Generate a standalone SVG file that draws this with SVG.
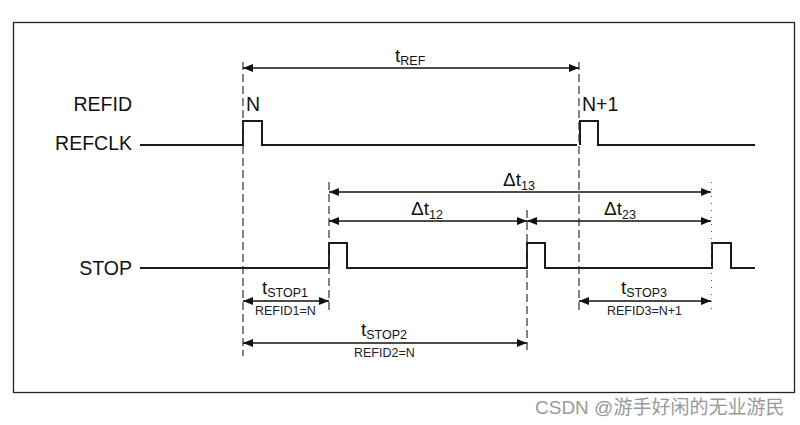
<svg xmlns="http://www.w3.org/2000/svg" width="800" height="425" viewBox="0 0 800 425">
<defs>
<marker id="ah" viewBox="0 0 10 10" refX="10" refY="5" markerWidth="10" markerHeight="10" markerUnits="userSpaceOnUse" orient="auto-start-reverse">
<path d="M0,1 L10,5 L0,9 Z" fill="#111"/>
</marker>
</defs>
<style>
.sig{fill:none;stroke:#1a1a1a;stroke-width:2}
.dash{fill:none;stroke:#333;stroke-width:1.2;stroke-dasharray:8 4}
.dot{fill:none;stroke:#555;stroke-width:1;stroke-dasharray:1 6}
.arr{fill:none;stroke:#111;stroke-width:1.5;marker-start:url(#ah);marker-end:url(#ah)}
.lbl{font-family:"Liberation Sans",Arial,sans-serif;font-size:19.5px;fill:#111}
.t{font-family:"Liberation Sans",Arial,sans-serif;font-size:19px;fill:#111}
.sub{font-size:12.5px}
.small{font-family:"Liberation Sans",Arial,sans-serif;font-size:12.5px;fill:#222}
</style>
<rect x="0" y="0" width="800" height="425" fill="#fff"/>
<rect x="13.5" y="22.5" width="781" height="370" fill="none" stroke="#222" stroke-width="1.3"/>

<g id="labels">
<text class="lbl" x="132" y="111" text-anchor="end">REFID</text>
<text class="lbl" x="132" y="150" text-anchor="end">REFCLK</text>
<text class="lbl" x="132" y="275" text-anchor="end">STOP</text>
<text class="lbl" x="246" y="111">N</text>
<text class="lbl" x="582" y="111">N+1</text>
</g>

<g id="refclk">
<path class="sig" d="M140,145 H243 V121 H262 V145 H577"/>
<path class="sig" d="M580,145 V121 H598 V145 H755"/>
</g>

<g id="stop">
<path class="sig" d="M140,268 H329 V243 H347 V268 H527 V243 H545 V268 H712 V243 H731 V268 H755"/>
</g>

<g id="connectors">
<line class="dash" x1="243" y1="62" x2="243" y2="356"/>
<line class="dash" x1="579" y1="62" x2="579" y2="312"/>
<line class="dash" x1="329" y1="182" x2="329" y2="312"/>
<line class="dash" x1="527" y1="210" x2="527" y2="354"/>
<line class="dot" x1="711.5" y1="182" x2="711.5" y2="312"/>

<line class="arr" x1="243" y1="68" x2="579" y2="68"/>
<line class="arr" x1="329" y1="192" x2="711" y2="192"/>
<line class="arr" x1="329" y1="221" x2="527" y2="221"/>
<line class="arr" x1="527" y1="221" x2="711" y2="221"/>
<line class="arr" x1="243" y1="301" x2="329" y2="301"/>
<line class="arr" x1="579" y1="301" x2="711" y2="301"/>
<line class="arr" x1="243" y1="343" x2="527" y2="343"/>
</g>

<g id="tref"><text class="t" x="395" y="62">t<tspan class="sub" dy="3">REF</tspan></text></g>
<g id="dt13"><text class="t" x="503" y="186">Δt<tspan class="sub" dy="4">13</tspan></text></g>
<g id="dt12"><text class="t" x="411" y="215">Δt<tspan class="sub" dy="4">12</tspan></text></g>
<g id="dt23"><text class="t" x="604" y="215">Δt<tspan class="sub" dy="4">23</tspan></text></g>
<g id="tstop1"><text class="t" x="262" y="294">t<tspan class="sub" dy="3">STOP1</tspan></text>
<text class="small" x="255" y="315">REFID1=N</text></g>
<g id="tstop2"><text class="t" x="361" y="336">t<tspan class="sub" dy="3">STOP2</tspan></text>
<text class="small" x="354" y="357">REFID2=N</text></g>
<g id="tstop3"><text class="t" x="621" y="294">t<tspan class="sub" dy="3">STOP3</tspan></text>
<text class="small" x="607" y="315">REFID3=N+1</text></g>

<text x="535" y="414" font-family="'Liberation Sans','Noto Sans CJK SC',sans-serif" font-size="19" fill="#999">CSDN @游手好闲的无业游民</text>
</svg>
